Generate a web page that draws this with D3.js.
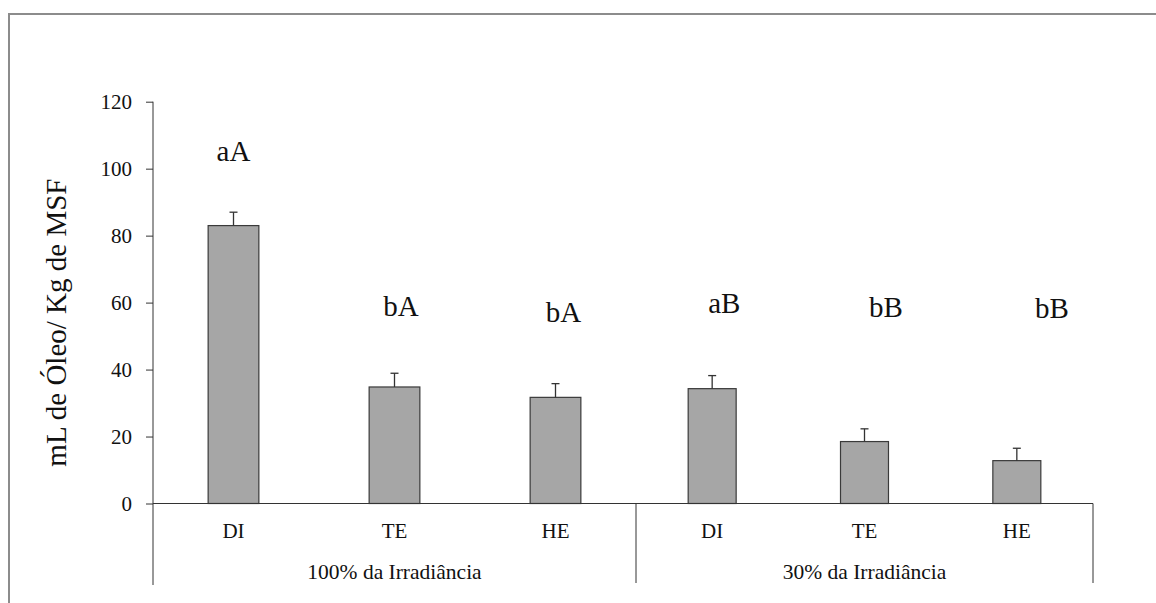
<!DOCTYPE html>
<html>
<head>
<meta charset="utf-8">
<script src="https://cdn.jsdelivr.net/npm/d3@7"></script>
<style>
  html, body { margin: 0; padding: 0; background: #fff; }
</style>
</head>
<body>
<svg id="chart" width="1156" height="603"></svg>
<script>
// Irradiance groups and the treatments inside each
const groups = ["100% da Irradiância", "30% da Irradiância"];
const treatments = ["DI", "TE", "HE"];
// Oil yield (mL / kg MSF), in group order then treatment order
const values = [83.0, 34.8, 31.7, 34.3, 18.5, 12.8];
const errors = [4.0, 4.1, 4.1, 3.9, 3.8, 3.7];
// Significance letters with their anchor (category index, value units)
const letters = ["aA", "bA", "bA", "aB", "bB", "bB"];
const letterAt = [0.50, 1.54, 2.55, 3.58, 4.64, 5.73];
const letterLevel = [102.4, 56.0, 54.3, 56.8, 55.6, 55.3];
const yTicks = [0, 20, 40, 60, 80, 100, 120];
const yTitle = "mL de Óleo/ Kg de MSF";

const FONT = "'Liberation Serif', 'Times New Roman', serif";
const svg = d3.select("#chart").style("font-family", FONT);

// Outer chart frame
svg.append("rect")
  .attr("x", 9).attr("y", 14)
  .attr("width", 1200).attr("height", 650)
  .attr("fill", "none").attr("stroke", "#8c8c8c").attr("stroke-width", 2);

const nCat = groups.length * treatments.length;
// Piecewise x scale: each group occupies its own span of the axis
const x = d3.scaleLinear()
  .domain([0, treatments.length, nCat])
  .range([153, 636, 1093]);
const y = d3.scaleLinear().domain([0, 120]).range([503.5, 101.7]);

const cats = values.map((v, i) => ({
  i, v, e: errors[i],
  label: treatments[i % treatments.length]
}));

const barFrac = 0.315;
const bw = i => (x(i + 1) - x(i)) * barFrac;
const cx = i => x(i + 0.5);

// Bars
svg.append("g").selectAll("rect")
  .data(cats).join("rect")
  .attr("x", d => cx(d.i) - bw(d.i) / 2)
  .attr("y", d => y(d.v))
  .attr("width", d => bw(d.i))
  .attr("height", d => y(0) - y(d.v))
  .attr("fill", "#a6a6a6")
  .attr("stroke", "#3a3a3a")
  .attr("stroke-width", 1.2);

// Error bars (upper half only)
const eb = svg.append("g").attr("stroke", "#333").attr("stroke-width", 1.3);
eb.selectAll("line.v").data(cats).join("line").attr("class", "v")
  .attr("x1", d => cx(d.i)).attr("x2", d => cx(d.i))
  .attr("y1", d => y(d.v)).attr("y2", d => y(d.v + d.e));
eb.selectAll("line.c").data(cats).join("line").attr("class", "c")
  .attr("x1", d => cx(d.i) - 4).attr("x2", d => cx(d.i) + 4)
  .attr("y1", d => y(d.v + d.e)).attr("y2", d => y(d.v + d.e));

// Y axis
const yAxis = d3.axisLeft(y).tickValues(yTicks).tickSize(7).tickPadding(14).tickSizeOuter(0);
const gy = svg.append("g").attr("transform", `translate(${x(0)},0)`).call(yAxis);
gy.attr("font-family", null).attr("font-size", null);
gy.select(".domain").remove();
gy.selectAll(".tick line").attr("stroke", "#333").attr("stroke-width", 1);
gy.selectAll(".tick text")
  .style("font-family", FONT).style("font-size", "21px").attr("fill", "#111");

// Axis lines: vertical axis, baseline and group dividers
const axisBottom = 585;
const lines = svg.append("g").attr("stroke", "#333").attr("stroke-width", 1);
lines.append("line")
  .attr("x1", x(0)).attr("x2", x(0))
  .attr("y1", y(120)).attr("y2", axisBottom);
lines.append("line")
  .attr("x1", x(0)).attr("x2", x(nCat))
  .attr("y1", y(0)).attr("y2", y(0));
lines.selectAll("line.div")
  .data(d3.range(1, groups.length + 1)).join("line").attr("class", "div")
  .attr("x1", g => x(g * treatments.length)).attr("x2", g => x(g * treatments.length))
  .attr("y1", y(0)).attr("y2", axisBottom - 2);

// Treatment labels
svg.append("g").selectAll("text")
  .data(cats).join("text")
  .attr("x", d => cx(d.i))
  .attr("y", y(0) + 34.5)
  .attr("text-anchor", "middle")
  .style("font-family", FONT).style("font-size", "21px").attr("fill", "#111")
  .text(d => d.label);

// Group labels
svg.append("g").selectAll("text")
  .data(groups).join("text")
  .attr("x", (g, k) => x((k + 0.5) * treatments.length))
  .attr("y", y(0) + 75)
  .attr("text-anchor", "middle")
  .style("font-family", FONT).style("font-size", "21.5px").attr("fill", "#111")
  .text(g => g);

// Significance letters
svg.append("g").selectAll("text")
  .data(letters).join("text")
  .attr("x", (t, k) => x(letterAt[k]))
  .attr("y", (t, k) => y(letterLevel[k]))
  .attr("text-anchor", "middle")
  .style("font-family", FONT).style("font-size", "29px").attr("fill", "#111")
  .text(t => t);

// Y axis title
svg.append("text")
  .attr("transform", `translate(66,${(y(0) + y(120)) / 2 + 20}) rotate(-90)`)
  .attr("text-anchor", "middle")
  .style("font-family", FONT).style("font-size", "29px").attr("fill", "#111")
  .text(yTitle);
</script>
</body>
</html>
